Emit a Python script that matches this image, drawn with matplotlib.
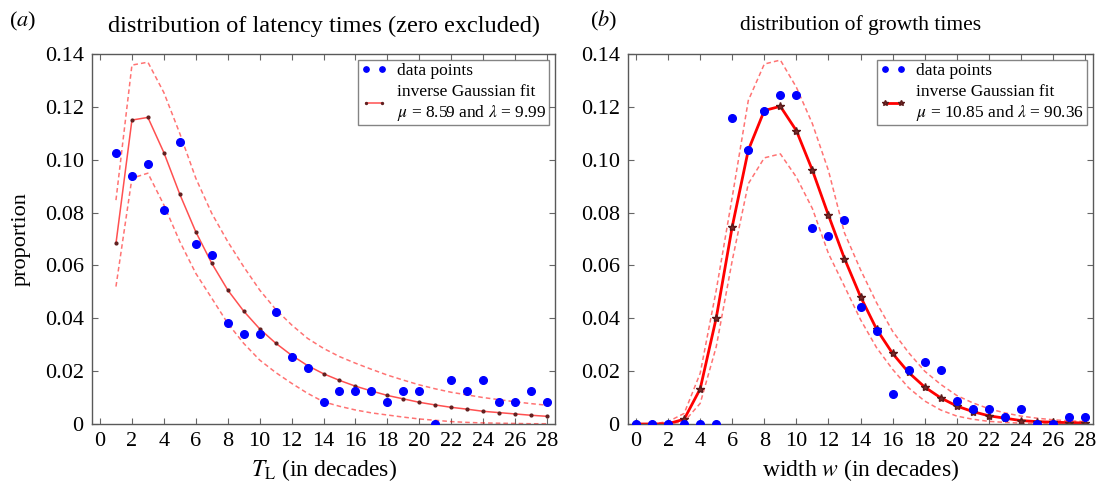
import matplotlib
matplotlib.use("Agg")
from matplotlib import pyplot as plt
from matplotlib.ticker import FuncFormatter, MultipleLocator

plt.rcParams['font.family'] = ['Liberation Serif', 'DejaVu Serif']
plt.rcParams['mathtext.fontset'] = 'stix'

# ---- panel (a): latency times (zero excluded), x = 1..28
lat_x = list(range(1, 29))
lat_data = [0.1024, 0.0939, 0.0982, 0.0809, 0.1068, 0.0681, 0.0639, 0.0381, 0.0339, 0.0339,
            0.0425, 0.0253, 0.0211, 0.0084, 0.0126, 0.0126, 0.0126, 0.0084, 0.0126, 0.0126,
            0.0, 0.0168, 0.0126, 0.0168, 0.0084, 0.0084, 0.0126, 0.0084]
lat_fit = [0.0683, 0.1150, 0.1160, 0.1027, 0.0869, 0.0727, 0.0608, 0.0507, 0.0427, 0.0360,
           0.0306, 0.0260, 0.0221, 0.0190, 0.0165, 0.0143, 0.0125, 0.0108, 0.0095, 0.0082,
           0.0072, 0.0063, 0.0056, 0.0048, 0.0043, 0.0038, 0.0033, 0.0029]
lat_upper = [0.0847, 0.1358, 0.1369, 0.1254, 0.1099, 0.0930, 0.0797, 0.0690, 0.0595, 0.0507,
             0.0434, 0.0375, 0.0324, 0.0286, 0.0255, 0.0230, 0.0207, 0.0185, 0.0166, 0.0148,
             0.0133, 0.0120, 0.0110, 0.0100, 0.0092, 0.0084, 0.0077, 0.0071]
lat_lower = [0.0520, 0.0930, 0.0949, 0.0829, 0.0690, 0.0570, 0.0476, 0.0381, 0.0305, 0.0242,
             0.0195, 0.0154, 0.0116, 0.0084, 0.0067, 0.0053, 0.0042, 0.0034, 0.0026, 0.0019,
             0.0014, 0.0009, 0.0006, 0.0004, 0.0003, 0.0002, 0.0001, 0.0001]

# ---- panel (b): growth times, x = 0..28
gro_x = list(range(0, 29))
gro_data = [0.0, 0.0, 0.0, 0.0, 0.0, 0.0, 0.1156, 0.1036, 0.1186, 0.1246, 0.1246, 0.0740,
            0.0711, 0.0770, 0.0441, 0.0351, 0.0115, 0.0204, 0.0234, 0.0204, 0.0086, 0.0055,
            0.0055, 0.0026, 0.0055, 0.0, 0.0, 0.0026, 0.0026]
gro_fit = [0.0, 0.0, 0.0001, 0.0018, 0.0133, 0.0401, 0.0747, 0.1036, 0.1186, 0.1202, 0.1110,
           0.0960, 0.0790, 0.0626, 0.0482, 0.0359, 0.0267, 0.0195, 0.0140, 0.0099, 0.0068,
           0.0047, 0.0031, 0.0022, 0.0013, 0.0009, 0.0007, 0.0005, 0.0004]
gro_upper = [0.0, 0.0, 0.0009, 0.0040, 0.0192, 0.0506, 0.0859, 0.1224, 0.1362, 0.1377, 0.1274,
             0.1136, 0.0959, 0.0723, 0.0584, 0.0459, 0.0351, 0.0270, 0.0200, 0.0150, 0.0108,
             0.0080, 0.0058, 0.0042, 0.0030, 0.0022, 0.0016, 0.0012, 0.0009]
gro_lower = [0.0, 0.0, 0.0, 0.0009, 0.0078, 0.0292, 0.0619, 0.0909, 0.1007, 0.1022, 0.0934,
             0.0815, 0.0645, 0.0521, 0.0395, 0.0289, 0.0207, 0.0137, 0.0087, 0.0053, 0.0030,
             0.0018, 0.0010, 0.0006, 0.0003, 0.0002, 0.0001, 0.0, 0.0]

y_ticks = [0, 0.02, 0.04, 0.06, 0.08, 0.10, 0.12, 0.14]


def fmt_y(v, pos):
    return "0" if abs(v) < 1e-9 else "%.2f" % v


def style_axes(ax):
    ax.set_xlim(-0.5, 28.5)
    ax.set_ylim(0, 0.14)
    ax.set_yticks(y_ticks)
    ax.yaxis.set_major_formatter(FuncFormatter(fmt_y))
    ax.xaxis.set_major_locator(MultipleLocator(2))
    ax.tick_params(direction="in", top=True, right=True, labelsize=16, length=4,
                   color="0.4", pad=6)
    for s in ax.spines.values():
        s.set_color("0.35")
        s.set_linewidth(1.0)


def add_legend(ax):
    h, l = ax.get_legend_handles_labels()
    leg = ax.legend(h[::-1], l[::-1], loc="upper right", numpoints=2, fontsize=12.5,
                    fancybox=False, edgecolor="0.4", borderaxespad=0.35, handlelength=1.5,
                    labelspacing=0.3, borderpad=0.15, handletextpad=0.6, markerscale=0.7)
    leg.get_frame().set_linewidth(1.0)


fig = plt.figure(figsize=(10.98, 4.86), dpi=100)
ax1 = fig.add_axes([0.0838, 0.1276, 0.4217, 0.7613])
ax2 = fig.add_axes([0.572, 0.1276, 0.4234, 0.7613])

# panel (a)
ax1.plot(lat_x, lat_upper, "--", color="red", alpha=0.55, lw=1.1, dashes=(3, 2))
ax1.plot(lat_x, lat_lower, "--", color="red", alpha=0.55, lw=1.1, dashes=(3, 2))
ax1.plot(lat_x, lat_fit, "-", color="#ff5050", lw=1.1, marker=".", markersize=4,
         markerfacecolor="#602020", markeredgecolor="#602020",
         label="inverse Gaussian fit\n$\\mu$ = 8.59 and $\\lambda$ = 9.99")
ax1.plot(lat_x, lat_data, "o", color="blue", markersize=5.5, label="data points", zorder=5)
style_axes(ax1)
add_legend(ax1)
ax1.set_title("distribution of latency times (zero excluded)", fontsize=17.5, pad=16)
ax1.set_ylabel("proportion", fontsize=16, labelpad=10)
ax1.set_xlabel("$T_{\\mathrm{L}}$ (in decades)", fontsize=17)
fig.text(0.008, 0.945, "($a$)", fontsize=16)

# panel (b)
ax2.plot(gro_x, gro_upper, "--", color="red", alpha=0.55, lw=1.1, dashes=(3, 2))
ax2.plot(gro_x, gro_lower, "--", color="red", alpha=0.55, lw=1.1, dashes=(3, 2))
ax2.plot(gro_x, gro_fit, "-", color="red", lw=2.0, marker="*", markersize=6,
         markerfacecolor="#7a2a2a", markeredgecolor="#5a1a1a",
         label="inverse Gaussian fit\n$\\mu$ = 10.85 and $\\lambda$ = 90.36")
ax2.plot(gro_x, gro_data, "o", color="blue", markersize=5.5, label="data points", zorder=5)
style_axes(ax2)
add_legend(ax2)
ax2.set_title("distribution of growth times", fontsize=15.5, pad=17)
ax2.set_xlabel("width $w$ (in decades)", fontsize=17)
fig.text(0.537, 0.945, "($b$)", fontsize=16)

fig.savefig("out.png", dpi=100)
